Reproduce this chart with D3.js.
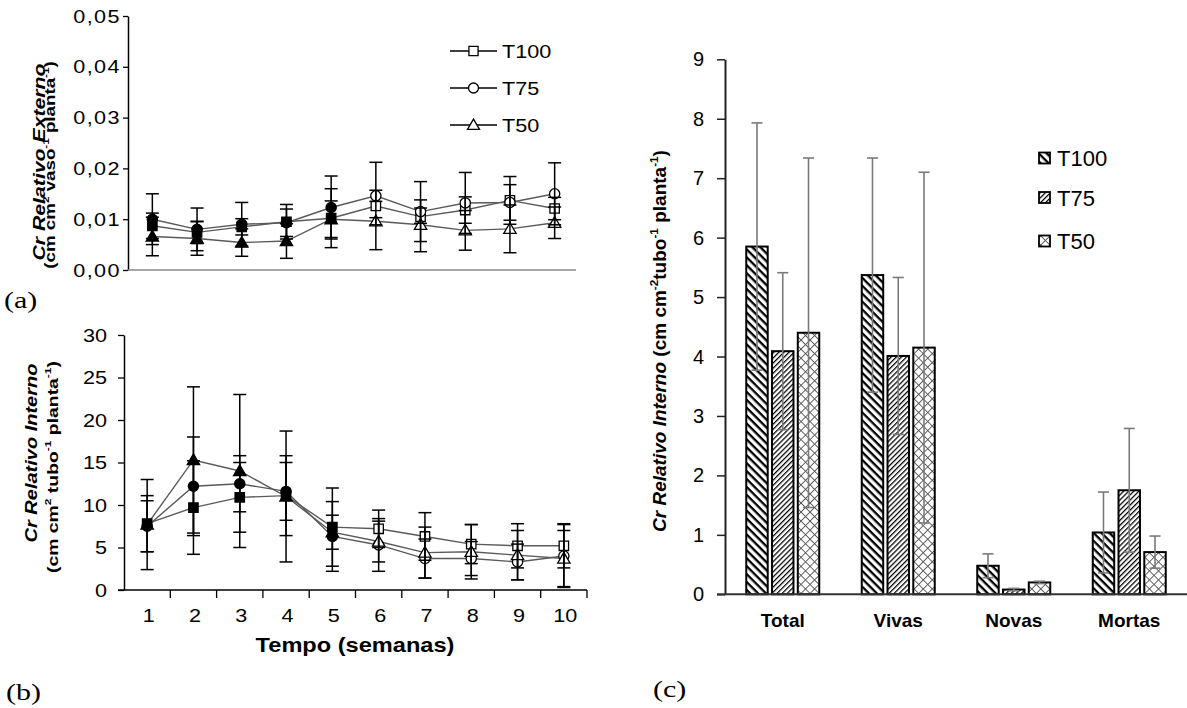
<!DOCTYPE html>
<html><head><meta charset="utf-8">
<script src="https://cdn.jsdelivr.net/npm/d3@7/dist/d3.min.js"></script>
<style>body{margin:0;background:#fff}svg{display:block}</style>
</head><body>
<svg id="chart" width="1187" height="708"></svg>
<script>
// ---------------- DATA ----------------
const weeks = [1,2,3,4,5,6,7,8,9,10];
const seriesNames = ["T100","T75","T50"];

// (a) Cr Relativo Externo
const extT100 = [0.0087,0.0074,0.0085,0.0095,0.0102,0.0126,0.0105,0.0118,0.0137,0.0121];
const extT75  = [0.0100,0.0080,0.0090,0.0093,0.0123,0.0146,0.0115,0.0132,0.0133,0.0150];
const extT50  = [0.0066,0.0062,0.0054,0.0057,0.0100,0.0096,0.0089,0.0078,0.0081,0.0093];
const extErrT100 = [0.0025,0.0022,0.0016,0.0034,0.0058,0.0086,0.0069,0.0026,0.0047,0.0022];
const extErrT75  = [0.0050,0.0042,0.0043,0.0027,0.0062,0.0011,0.0023,0.0060,0.0035,0.0061];
const extErrT50  = [0.0038,0.0033,0.0027,0.0034,0.0036,0.0007,0.0033,0.0039,0.0047,0.0031];
const extTicks = [0,0.01,0.02,0.03,0.04,0.05];

// (b) Cr Relativo Interno
const intT100 = [7.8,9.7,10.9,11.1,7.4,7.2,6.3,5.4,5.2,5.2];
const intT75  = [7.5,12.2,12.5,11.6,6.3,5.3,3.7,3.7,3.3,4.0];
const intT50  = [7.7,15.3,14.0,11.0,6.8,5.7,4.4,4.5,4.1,3.7];
const intErrT100 = [3.3,5.5,4.1,4.7,4.6,2.2,2.8,2.3,2.6,2.6];
const intErrT75  = [3.0,5.8,3.3,3.4,4.1,3.1,2.3,2.0,2.1,3.7];
const intErrT50  = [5.3,8.6,9.0,7.7,2.0,2.4,3.0,3.2,2.9,3.3];
const intTicks = [0,5,10,15,20,25,30];

// (c) bars
const categories = ["Total","Vivas","Novas","Mortas"];
const barT100 = [5.85,5.37,0.48,1.04];
const barT75  = [4.09,4.01,0.08,1.75];
const barT50  = [4.40,4.15,0.20,0.71];
const barErrT100 = [2.08,1.97,0.20,0.68];
const barErrT75  = [1.32,1.32,0.02,1.04];
const barErrT50  = [2.94,2.95,0.02,0.27];
const barTicks = [0,1,2,3,4,5,6,7,8,9];

// ---------------- HELPERS ----------------
const SANS = "'Liberation Sans', Arial, sans-serif";
const SERIF = "'Liberation Serif', 'Times New Roman', serif";
const svg = d3.select("#chart");
const defs = svg.append("defs");

function richText(parent, o) {
  const size = o.size;
  const t = parent.append("text")
    .attr("transform", `translate(${o.x},${o.y}) rotate(${o.rot||0}) scale(${o.sx||1},1)`)
    .attr("text-anchor", o.anchor || "start")
    .attr("font-family", o.family || SANS)
    .attr("font-size", size)
    .attr("font-weight", o.weight || "normal")
    .attr("letter-spacing", o.ls || 0)
    .attr("fill", "#000");
  let shifted = false;
  o.parts.forEach(p => {
    const ts = t.append("tspan").text(p.t);
    if (p.i) ts.attr("font-style", "italic");
    if (p.sup) {
      ts.attr("font-size", size * 0.62);
      if (!shifted) ts.attr("dy", -size * 0.42);
      shifted = true;
    } else if (shifted) {
      ts.attr("dy", size * 0.42);
      shifted = false;
    }
  });
  return t;
}

function stripe(id, period, thick, angle, color) {
  const p = defs.append("pattern").attr("id", id)
    .attr("patternUnits", "userSpaceOnUse")
    .attr("width", period).attr("height", period)
    .attr("patternTransform", `rotate(${angle})`);
  p.append("rect").attr("width", period).attr("height", period).attr("fill", "#fff");
  p.append("rect").attr("width", period).attr("height", thick).attr("fill", color);
}
stripe("p100", 5.6, 2.3, 45, "#000");
stripe("p75", 3.6, 1.25, -45, "#000");
(function(){
  const per = 6.4;
  const p = defs.append("pattern").attr("id", "p50")
    .attr("patternUnits", "userSpaceOnUse")
    .attr("width", per).attr("height", per)
    .attr("patternTransform", "rotate(45)");
  p.append("rect").attr("width", per).attr("height", per).attr("fill", "#fff");
  p.append("rect").attr("width", per).attr("height", 0.9).attr("fill", "#555");
  p.append("rect").attr("width", 0.9).attr("height", per).attr("fill", "#555");
})();

const shapes = { T100: d3.symbolSquare, T75: d3.symbolCircle, T50: d3.symbolTriangle };
const shapeSize = { T100: 88, T75: 82, T50: 66 };

function drawLinePanel(g, x, y, series) {
  const line = d3.line().x((d,i) => x(weeks[i])).y(d => y(d));
  series.forEach(s => {
    g.append("path").datum(s.vals).attr("d", line)
      .attr("fill", "none").attr("stroke", "#5a5a5a").attr("stroke-width", 1.4);
  });
  series.forEach(s => {
    g.selectAll(null).data(s.vals).join("path")
      .attr("d", d3.symbol().type(shapes[s.name]).size(shapeSize[s.name]))
      .attr("transform", (d,i) => `translate(${x(weeks[i])},${y(d) + (s.name === "T50" ? 1 : 0)})`)
      .attr("fill", (d,i) => i < 5 ? "#000" : "#fff")
      .attr("stroke", "#000").attr("stroke-width", 1.3);
  });
  series.forEach(s => {
    const eg = g.append("g").attr("stroke", "#000").attr("stroke-width", 1.5);
    s.vals.forEach((v,i) => {
      const cx = x(weeks[i]), lo = y(v - s.errs[i]), hi = y(v + s.errs[i]);
      eg.append("line").attr("x1", cx).attr("x2", cx).attr("y1", lo).attr("y2", hi);
      eg.append("line").attr("x1", cx-6.5).attr("x2", cx+6.5).attr("y1", lo).attr("y2", lo);
      eg.append("line").attr("x1", cx-6.5).attr("x2", cx+6.5).attr("y1", hi).attr("y2", hi);
    });
  });
}

// ---------------- PANEL (a) ----------------
const ga = svg.append("g");
const xa = d3.scalePoint().domain(weeks).range([130, 577]).padding(0.5);
const ya = d3.scaleLinear().domain([0, 0.05]).range([270, 16]);
ga.append("g").attr("transform", "translate(128,0)")
  .call(d3.axisLeft(ya).tickValues(extTicks).tickSize(5).tickSizeOuter(0).tickFormat(""))
  .call(g => g.select(".domain").attr("stroke", "#000").attr("stroke-width", 1.5))
  .call(g => g.selectAll(".tick line").attr("stroke", "#000").attr("stroke-width", 1.3));
ga.append("line").attr("x1", 128).attr("x2", 576).attr("y1", ya(0)).attr("y2", ya(0))
  .attr("stroke", "#8a8a8a").attr("stroke-width", 1.5);
extTicks.forEach(t => {
  richText(ga, { x: 121, y: ya(t) + 6.5, anchor: "end", size: 18, sx: 1.2, ls: 1.2,
    parts: [{ t: d3.format(".2f")(t).replace(".", ",") }] });
});
drawLinePanel(ga, xa, ya, [
  { name: "T100", vals: extT100, errs: extErrT100 },
  { name: "T75", vals: extT75, errs: extErrT75 },
  { name: "T50", vals: extT50, errs: extErrT50 }
]);
richText(ga, { x: 44.5, y: 162, rot: -90, sx: 1.25, anchor: "middle", size: 17, weight: "bold",
  parts: [{ t: "Cr Relativo Externo", i: true }] });
richText(ga, { x: 55, y: 165, rot: -90, sx: 1.25, anchor: "middle", size: 15, weight: "bold",
  parts: [{ t: "(cm cm" }, { t: "2", sup: true }, { t: " vaso" }, { t: "-1", sup: true },
          { t: " planta" }, { t: "-1", sup: true }, { t: ")" }] });
// legend (a)
const legY = { T100: 51, T75: 88, T50: 125 };
seriesNames.forEach(n => {
  ga.append("line").attr("x1", 450).attr("x2", 497).attr("y1", legY[n]).attr("y2", legY[n])
    .attr("stroke", "#000").attr("stroke-width", 1.5);
  ga.append("path").attr("d", d3.symbol().type(shapes[n]).size(shapeSize[n] * 0.95))
    .attr("transform", `translate(473.5,${legY[n] + (n === "T50" ? 1 : 0)})`)
    .attr("fill", "#fff").attr("stroke", "#000").attr("stroke-width", 1.3);
  richText(ga, { x: 502, y: legY[n] + 6.5, size: 18, sx: 1.2, parts: [{ t: n }] });
});
richText(svg, { x: 4, y: 308, size: 24, sx: 1.25, family: SERIF, parts: [{ t: "(a)" }] });

// ---------------- PANEL (b) ----------------
const gb = svg.append("g");
const xb = d3.scaleBand().domain(weeks).range([124, 587]);
const yb = d3.scaleLinear().domain([0, 30]).range([590, 335]);
gb.append("g").attr("transform", "translate(124,0)")
  .call(d3.axisLeft(yb).tickValues(intTicks).tickSize(6).tickSizeOuter(0).tickFormat(""))
  .call(g => g.select(".domain").attr("stroke", "#000").attr("stroke-width", 1.5))
  .call(g => g.selectAll(".tick line").attr("stroke", "#000").attr("stroke-width", 1.3));
gb.append("line").attr("x1", 118).attr("x2", 587).attr("y1", yb(0)).attr("y2", yb(0))
  .attr("stroke", "#000").attr("stroke-width", 1.5);
gb.selectAll(null).data(weeks).join("line")
  .attr("x1", d => xb(d) + xb.bandwidth()).attr("x2", d => xb(d) + xb.bandwidth())
  .attr("y1", yb(0)).attr("y2", yb(0) + 8).attr("stroke", "#000").attr("stroke-width", 1.3);
intTicks.forEach(t => {
  richText(gb, { x: 107, y: yb(t) + 6.5, anchor: "end", size: 18, sx: 1.2, parts: [{ t: String(t) }] });
});
weeks.forEach(w => {
  richText(gb, { x: xb(w) + xb.bandwidth() / 2 + 1.5, y: 622, anchor: "middle", size: 18, sx: 1.2, parts: [{ t: String(w) }] });
});
const xbc = d => xb(d) + xb.bandwidth() / 2;
drawLinePanel(gb, { __proto__: null, call: null } && (w => xbc(w)), yb, [
  { name: "T100", vals: intT100, errs: intErrT100 },
  { name: "T75", vals: intT75, errs: intErrT75 },
  { name: "T50", vals: intT50, errs: intErrT50 }
]);
richText(gb, { x: 355, y: 652, anchor: "middle", size: 20, sx: 1.18, weight: "bold",
  parts: [{ t: "Tempo (semanas)" }] });
richText(gb, { x: 37, y: 453, rot: -90, sx: 1.25, anchor: "middle", size: 16, weight: "bold",
  parts: [{ t: "Cr Relativo Interno", i: true }] });
richText(gb, { x: 58, y: 467, rot: -90, sx: 1.25, anchor: "middle", size: 15.5, weight: "bold",
  parts: [{ t: "(cm cm" }, { t: "2", sup: true }, { t: " tubo" }, { t: "-1", sup: true },
          { t: " planta" }, { t: "-1", sup: true }, { t: ")" }] });
richText(svg, { x: 6, y: 700, size: 24, sx: 1.25, family: SERIF, parts: [{ t: "(b)" }] });

// ---------------- PANEL (c) ----------------
const gc = svg.append("g");
const xc = d3.scaleBand().domain(categories).range([725, 1187]);
const xs = d3.scaleBand().domain(seriesNames).range([-36.5, 36.5]).paddingInner(0.167);
const yc = d3.scaleLinear().domain([0, 9]).range([594.3, 59.3]);
const fills = { T100: "url(#p100)", T75: "url(#p75)", T50: "url(#p50)" };
const barData = { T100: [barT100, barErrT100], T75: [barT75, barErrT75], T50: [barT50, barErrT50] };

seriesNames.forEach(n => {
  const [vals, errs] = barData[n];
  gc.selectAll(null).data(categories).join("rect")
    .attr("x", (c) => xc(c) + xc.bandwidth() / 2 + xs(n))
    .attr("width", xs.bandwidth())
    .attr("y", (c,i) => yc(vals[i]))
    .attr("height", (c,i) => yc(0) - yc(vals[i]))
    .attr("fill", fills[n]).attr("stroke", "#000").attr("stroke-width", 2);
});
seriesNames.forEach(n => {
  const [vals, errs] = barData[n];
  const eg = gc.append("g").attr("stroke", "#7a7a7a").attr("stroke-width", 1.6);
  categories.forEach((c,i) => {
    const cx = xc(c) + xc.bandwidth() / 2 + xs(n) + xs.bandwidth() / 2;
    const lo = yc(vals[i] - errs[i]), hi = yc(vals[i] + errs[i]);
    eg.append("line").attr("x1", cx).attr("x2", cx).attr("y1", lo).attr("y2", hi);
    eg.append("line").attr("x1", cx-5.5).attr("x2", cx+5.5).attr("y1", lo).attr("y2", lo);
    eg.append("line").attr("x1", cx-5.5).attr("x2", cx+5.5).attr("y1", hi).attr("y2", hi);
  });
});
gc.append("g").attr("transform", "translate(725,0)")
  .call(d3.axisLeft(yc).tickValues(barTicks).tickSize(8).tickSizeOuter(0).tickFormat(""))
  .call(g => g.select(".domain").attr("stroke", "#222").attr("stroke-width", 2))
  .call(g => g.selectAll(".tick line").attr("stroke", "#222").attr("stroke-width", 1.5));
gc.append("line").attr("x1", 717).attr("x2", 1187).attr("y1", yc(0)).attr("y2", yc(0))
  .attr("stroke", "#333").attr("stroke-width", 2);
barTicks.forEach(t => {
  richText(gc, { x: 704, y: yc(t) + 7, anchor: "end", size: 20, parts: [{ t: String(t) }] });
});
categories.forEach(c => {
  richText(gc, { x: xc(c) + xc.bandwidth() / 2, y: 627, anchor: "middle", size: 19, weight: "bold", parts: [{ t: c }] });
});
richText(gc, { x: 666, y: 341, rot: -90, anchor: "middle", size: 19, weight: "bold",
  parts: [{ t: "Cr Relativo Interno", i: true }, { t: "  (cm cm" }, { t: "-2", sup: true }, { t: "tubo" },
          { t: "-1", sup: true }, { t: " planta" }, { t: "-1", sup: true }, { t: ")" }] });
const legC = { T100: 158, T75: 197.5, T50: 241 };
seriesNames.forEach(n => {
  gc.append("rect").attr("x", 1039).attr("y", legC[n] - 5.5).attr("width", 11).attr("height", 11)
    .attr("fill", fills[n]).attr("stroke", "#000").attr("stroke-width", 1.8);
  richText(gc, { x: 1057, y: legC[n] + 8, size: 22, parts: [{ t: n }] });
});
richText(svg, { x: 653, y: 697, size: 24, sx: 1.25, family: SERIF, parts: [{ t: "(c)" }] });
</script>
</body></html>
